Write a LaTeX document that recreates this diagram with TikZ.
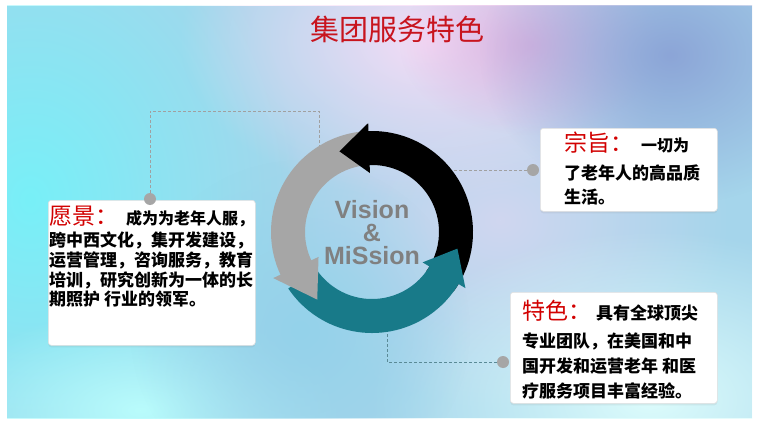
\documentclass[tikz,border=0pt]{standalone}
\usepackage{fontspec}
\setmainfont{Noto Sans CJK SC}
\newfontfamily\arialfont{Liberation Sans}
\usetikzlibrary{fadings,shadows}
\tikzfading[name=blobfade, inner color=transparent!0, outer color=transparent!100]
\definecolor{titlered}{RGB}{200,20,30}
\definecolor{labelred}{RGB}{210,0,0}
\definecolor{ringblack}{RGB}{0,0,0}
\definecolor{ringgray}{RGB}{166,166,166}
\definecolor{ringteal}{RGB}{24,122,137}
\definecolor{dashgray}{RGB}{160,160,160}
\definecolor{dashteal}{RGB}{90,138,150}
\definecolor{visgray}{RGB}{128,128,128}
\definecolor{bgbase}{RGB}{165,213,235}
\definecolor{bgcyan}{RGB}{120,240,248}
\definecolor{bgcyanb}{RGB}{185,252,252}
\definecolor{bgpink}{RGB}{246,220,246}
\definecolor{bgmauve}{RGB}{222,180,225}
\definecolor{bgpurple}{RGB}{140,165,215}
\definecolor{bglight}{RGB}{220,252,252}
\definecolor{bgblue}{RGB}{148,210,234}
\definecolor{bglav}{RGB}{208,215,240}
\def\rOut{101}
\def\rIn{67}
\def\rHo{109}
\def\rHi{59}
\def\rTip{87}
\newcommand\ringbody[3]{\fill[#1] (#2:\rOut) arc[start angle=#2, end angle=#3, radius=\rOut] -- (#3:\rIn) arc[start angle=#3, end angle=#2, radius=\rIn] -- cycle;}
\newcommand\ringhead[3]{\fill[#1] (#2:\rHo) -- (#3:\rTip) -- (#2:\rHi) -- cycle;}
\tikzset{
  boxstyle/.style={fill=white, draw=black!12, line width=0.6pt, rounded corners=3pt, inner sep=0pt, anchor=north west,
    drop shadow={opacity=0.12, shadow xshift=0pt, shadow yshift=-2pt}},
  dotnode/.style={circle, fill=ringgray, inner sep=0pt, minimum size=12pt},
  dashline/.style={draw=dashgray, line width=0.8pt, dash pattern=on 3pt off 2pt},
  dashtealline/.style={draw=dashteal, line width=0.8pt, dash pattern=on 3pt off 2pt},
  bodyline/.style={anchor=base west, inner sep=0pt, font=\fontsize{17}{17}\selectfont\bfseries},
  centretxt/.style={anchor=center, inner sep=0pt, align=center, text=visgray, font=\arialfont\bfseries\fontsize{25}{23}\selectfont},
  blob/.style={path fading=blobfade}
}
\newcommand\redlab[1]{{\color{labelred}\mdseries\fontsize{23}{23}\selectfont #1}}
\begin{document}
\begin{tikzpicture}[x=1pt,y=-1pt]
\useasboundingbox (0,0) rectangle (763,428);
\fill[white] (0,0) rectangle (763,428);
% background
\begin{scope}
\clip (7,6) rectangle (752,418);
\fill[bgbase] (7,6) rectangle (752,418);
\fill[bglav, blob] (500,220) ellipse[x radius=230, y radius=190];
\fill[bgcyan, blob] (30,200) ellipse[x radius=270, y radius=330];
\fill[bgcyanb, blob] (140,410) ellipse[x radius=200, y radius=100];
\fill[bgpink, blob] (430,40) ellipse[x radius=250, y radius=160];
\fill[bgmauve, blob] (530,45) ellipse[x radius=130, y radius=90];
\fill[bgpurple, blob] (670,55) ellipse[x radius=190, y radius=150];
\fill[bglight, blob] (650,400) ellipse[x radius=280, y radius=170];
\fill[bgblue, blob] (300,330) ellipse[x radius=170, y radius=170];
\end{scope}
% title
\node[anchor=base, inner sep=0pt, text=titlered, font=\fontsize{29}{29}\selectfont] (title) at (397,41) {集团服务特色};
% boxes
\node[boxstyle, minimum width=207pt, minimum height=145pt] (lbox) at (48,200) {};
\node[boxstyle, minimum width=177pt, minimum height=83pt] (tbox) at (540,128) {};
\node[boxstyle, minimum width=207pt, minimum height=111pt] (bbox) at (510,292) {};
% dots
\node[dotnode] (ldot) at (150,199) {};
\node[dotnode] (rdot) at (533,170) {};
\node[dotnode] (bdot) at (503,362) {};
\coordinate (lcorner) at (319,111);
\coordinate (lend) at (319,147);
\coordinate (rend) at (448,170);
\coordinate (bend) at (387,328);
\draw[dashline] (ldot) |- (lcorner) -- (lend);
\draw[dashline] (rdot) -- (rend);
\draw[dashtealline] (bdot) -| (bend);
% ring
\begin{scope}[shift={(372,232)}, yscale=-1]
\ringbody{ringblack}{-36}{93}
\ringbody{ringgray}{95}{206}
\ringbody{ringteal}{214}{330}
\ringhead{ringblack}{92}{112}
\ringhead{ringgray}{205}{231}
\ringhead{ringteal}{329}{349}
\end{scope}
\node[centretxt] (vm) at (372,233) {Vision\\\&\\MiSsion};
% left box text
\node[bodyline] (l1) at (49,224) {\redlab{愿景：}\hspace{8pt}\fontsize{16}{16}\selectfont 成为为老年人服，};
\node[bodyline] (l2) at (49,246) {跨中西文化，集开发建设，};
\node[bodyline] (l3) at (49,266) {运营管理，咨询服务，教育};
\node[bodyline] (l4) at (49,286) {培训，研究创新为一体的长};
\node[bodyline] (l5) at (49,305) {期照护 行业的领军。};
% right top text
\node[bodyline] (t1) at (564,151) {\redlab{宗旨：}\hspace{8pt}\fontsize{16}{16}\selectfont 一切为};
\node[bodyline] (t2) at (564,179) {了老年人的高品质};
\node[bodyline] (t3) at (564,203) {生活。};
% right bottom text
\node[bodyline] (s1) at (522,319) {\redlab{特色：}\hspace{5pt}具有全球顶尖};
\node[bodyline] (s2) at (522,347) {专业团队，在美国和中};
\node[bodyline] (s3) at (522,372) {国开发和运营老年 和医};
\node[bodyline] (s4) at (522,397) {疗服务项目丰富经验。};
\end{tikzpicture}
\end{document}
